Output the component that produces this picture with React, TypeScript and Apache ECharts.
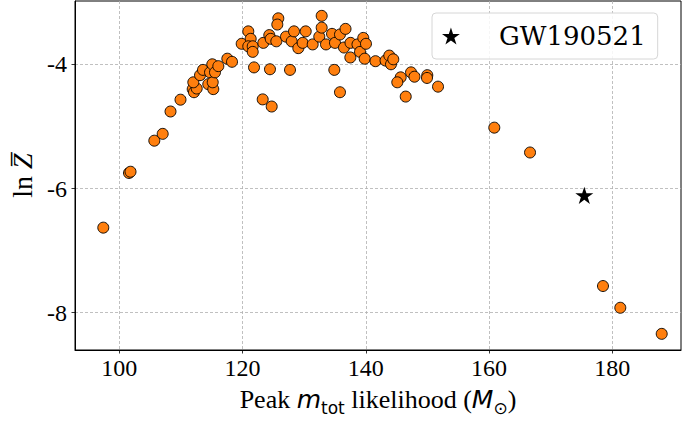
import React, { useEffect, useRef } from "react";
import * as echarts from "echarts";

// Population of simulated events: peak total-mass likelihood vs. ln evidence
const massPeak = [
  97.4, 101.57, 101.82, 105.68, 107.04, 108.31, 109.93, 111.91, 112.12, 112.56,
  112.01, 113.1, 113.58, 114.44, 114.72, 115.09, 115.25, 115.16, 115.53, 116.07,
  117.53, 118.29, 119.86, 120.93, 121.32, 120.93, 121.65, 121.65, 121.86, 123.27,
  124.73, 123.37, 124.34, 124.57, 124.45, 125.48, 125.8, 125.64, 127.05, 127.7,
  127.98, 128.35, 129.05, 129.76, 130.25, 131.38, 132.45, 132.84, 132.84, 133.54,
  134.52, 134.89, 135.0, 135.81, 135.81, 136.46, 136.71, 137.52, 137.49, 138.65,
  139.06, 139.59, 139.82, 140.03, 141.57, 143.2, 143.81, 144.09, 144.46, 145.66,
  145.11, 146.48, 147.34, 147.9, 149.98, 149.93, 151.72, 160.85, 166.65, 178.49,
  181.3, 188.02,
];
const lnZ = [
  -6.63, -5.75, -5.73, -5.23, -5.12, -4.76, -4.57, -4.4, -4.45, -4.39,
  -4.29, -4.175, -4.09, -4.32, -4.13, -4.0, -4.4, -4.29, -4.13, -4.03,
  -3.91, -3.96, -3.67, -3.47, -3.59, -3.71, -3.71, -3.8, -4.05, -4.565,
  -4.68, -3.655, -3.53, -3.59, -4.08, -3.63, -3.26, -3.36, -3.555, -4.09,
  -3.63, -3.47, -3.74, -3.655, -3.47, -3.68, -3.555, -3.22, -3.41, -3.68,
  -3.51, -4.09, -3.655, -4.45, -3.52, -3.73, -3.43, -3.655, -3.89, -3.68,
  -3.8, -3.575, -3.91, -3.67, -3.95, -3.94, -3.86, -4.0, -3.92, -4.21,
  -4.29, -4.52, -4.13, -4.2, -4.175, -4.22, -4.36, -5.02, -5.42, -7.57,
  -7.92, -8.34,
];
const gwName = "GW190521";
const gwMass = [175.46];
const gwLnZ = [-6.11];

const xTicks = [100, 120, 140, 160, 180];
const yTicks = [-8, -6, -4];

const STAR =
  "path://M50 0 L61.23 34.55 L97.55 34.55 L68.17 55.9 L79.39 90.45 L50 69.1 L20.61 90.45 L31.83 55.9 L2.45 34.55 L38.77 34.55 Z";

const SERIF = "'Liberation Serif', 'Times New Roman', Times, serif";

export default function App() {
  const ref = useRef<HTMLDivElement>(null);
  useEffect(() => {
    if (!ref.current) return;
    const chart = echarts.init(ref.current, null, { renderer: "svg" });
    const gridLine = {
      show: true,
      lineStyle: { color: "#b0b0b0", width: 0.8, type: [3, 2] as any },
    };
    chart.setOption({
      animation: false,
      backgroundColor: "#fff",
      grid: {
        left: 75,
        right: 1,
        top: 1,
        bottom: 67,
        show: true,
        borderColor: "#000",
        borderWidth: 1,
        backgroundColor: "transparent",
      },
      legend: {
        data: [{ name: gwName, icon: STAR, itemStyle: { color: "#000", opacity: 1 } }],
        left: 432,
        top: 13,
        orient: "horizontal",
        itemWidth: 56,
        itemHeight: 17,
        padding: [10, 12, 10, 10],
        borderColor: "#d6d6d6",
        borderWidth: 1,
        borderRadius: 4,
        backgroundColor: "rgba(255,255,255,0.85)",
        textStyle: {
          fontFamily: "'DejaVu Serif', serif",
          fontSize: 26,
          color: "#000",
          padding: [0, 0, 0, 15],
        },
        selectedMode: false,
      },
      xAxis: {
        type: "value",
        min: 92.81,
        max: 191.15,
        name:
          "{a|Peak }{i|m}{s|tot}{a| likelihood (}{i|M}{s|\u2299}{a|)}",
        nameLocation: "middle",
        nameGap: 32,
        nameTextStyle: {
          rich: {
            a: { fontFamily: SERIF, fontSize: 26, color: "#000", lineHeight: 34, verticalAlign: "middle" },
            i: {
              fontFamily: "'DejaVu Sans', sans-serif",
              fontStyle: "italic",
              fontSize: 25,
              color: "#000",
              lineHeight: 34,
              verticalAlign: "middle",
            },
            s: {
              fontFamily: "'DejaVu Sans', sans-serif",
              fontSize: 17,
              color: "#000",
              lineHeight: 18,
              verticalAlign: "bottom",
            },
          },
        },
        axisLine: { show: true, lineStyle: { color: "#000", width: 1 } },
        axisTick: {
          show: true,
          length: 3.5,
          inside: false,
          customValues: xTicks,
          lineStyle: { color: "#000", width: 0.8 },
        },
        axisLabel: {
          customValues: xTicks,
          margin: 6,
          fontFamily: SERIF,
          fontSize: 24,
          color: "#000",
          formatter: (v: number) => (xTicks.includes(v) ? String(v) : ""),
        },
        splitLine: gridLine,
      },
      yAxis: {
        type: "value",
        min: -8.6,
        max: -2.981,
        name: "{a|ln }{z|Z\u0305}",
        nameLocation: "middle",
        nameRotate: 90,
        nameGap: 36,
        nameTextStyle: {
          rich: {
            a: { fontFamily: SERIF, fontSize: 28, color: "#000", lineHeight: 34 },
            z: { fontFamily: SERIF, fontStyle: "italic", fontSize: 28, color: "#000", lineHeight: 34 },
          },
        },
        axisLine: { show: true, lineStyle: { color: "#000", width: 1 } },
        axisTick: {
          show: true,
          length: 3.5,
          inside: false,
          customValues: yTicks,
          lineStyle: { color: "#000", width: 0.8 },
        },
        axisLabel: {
          customValues: yTicks,
          margin: 8,
          fontFamily: SERIF,
          fontSize: 24,
          color: "#000",
          formatter: (v: number) => (yTicks.includes(v) ? String(v) : ""),
        },
        splitLine: gridLine,
      },
      series: [
        {
          name: "population",
          type: "scatter",
          symbol: "circle",
          symbolSize: 11,
          itemStyle: { color: "#ff7f0e", borderColor: "#000", borderWidth: 0.9, opacity: 1 },
          data: massPeak.map((m, i) => [m, lnZ[i]]),
          z: 3,
        },
        {
          name: gwName,
          type: "scatter",
          symbol: STAR,
          symbolSize: 18,
          symbolKeepAspect: true,
          itemStyle: { color: "#000", opacity: 1 },
          data: gwMass.map((m, i) => [m, gwLnZ[i]]),
          z: 4,
        },
      ],
    });
    return () => chart.dispose();
  }, []);
  return <div ref={ref} style={{ width: 682, height: 421, position: "absolute", left: 0, top: 0 }} />;
}
